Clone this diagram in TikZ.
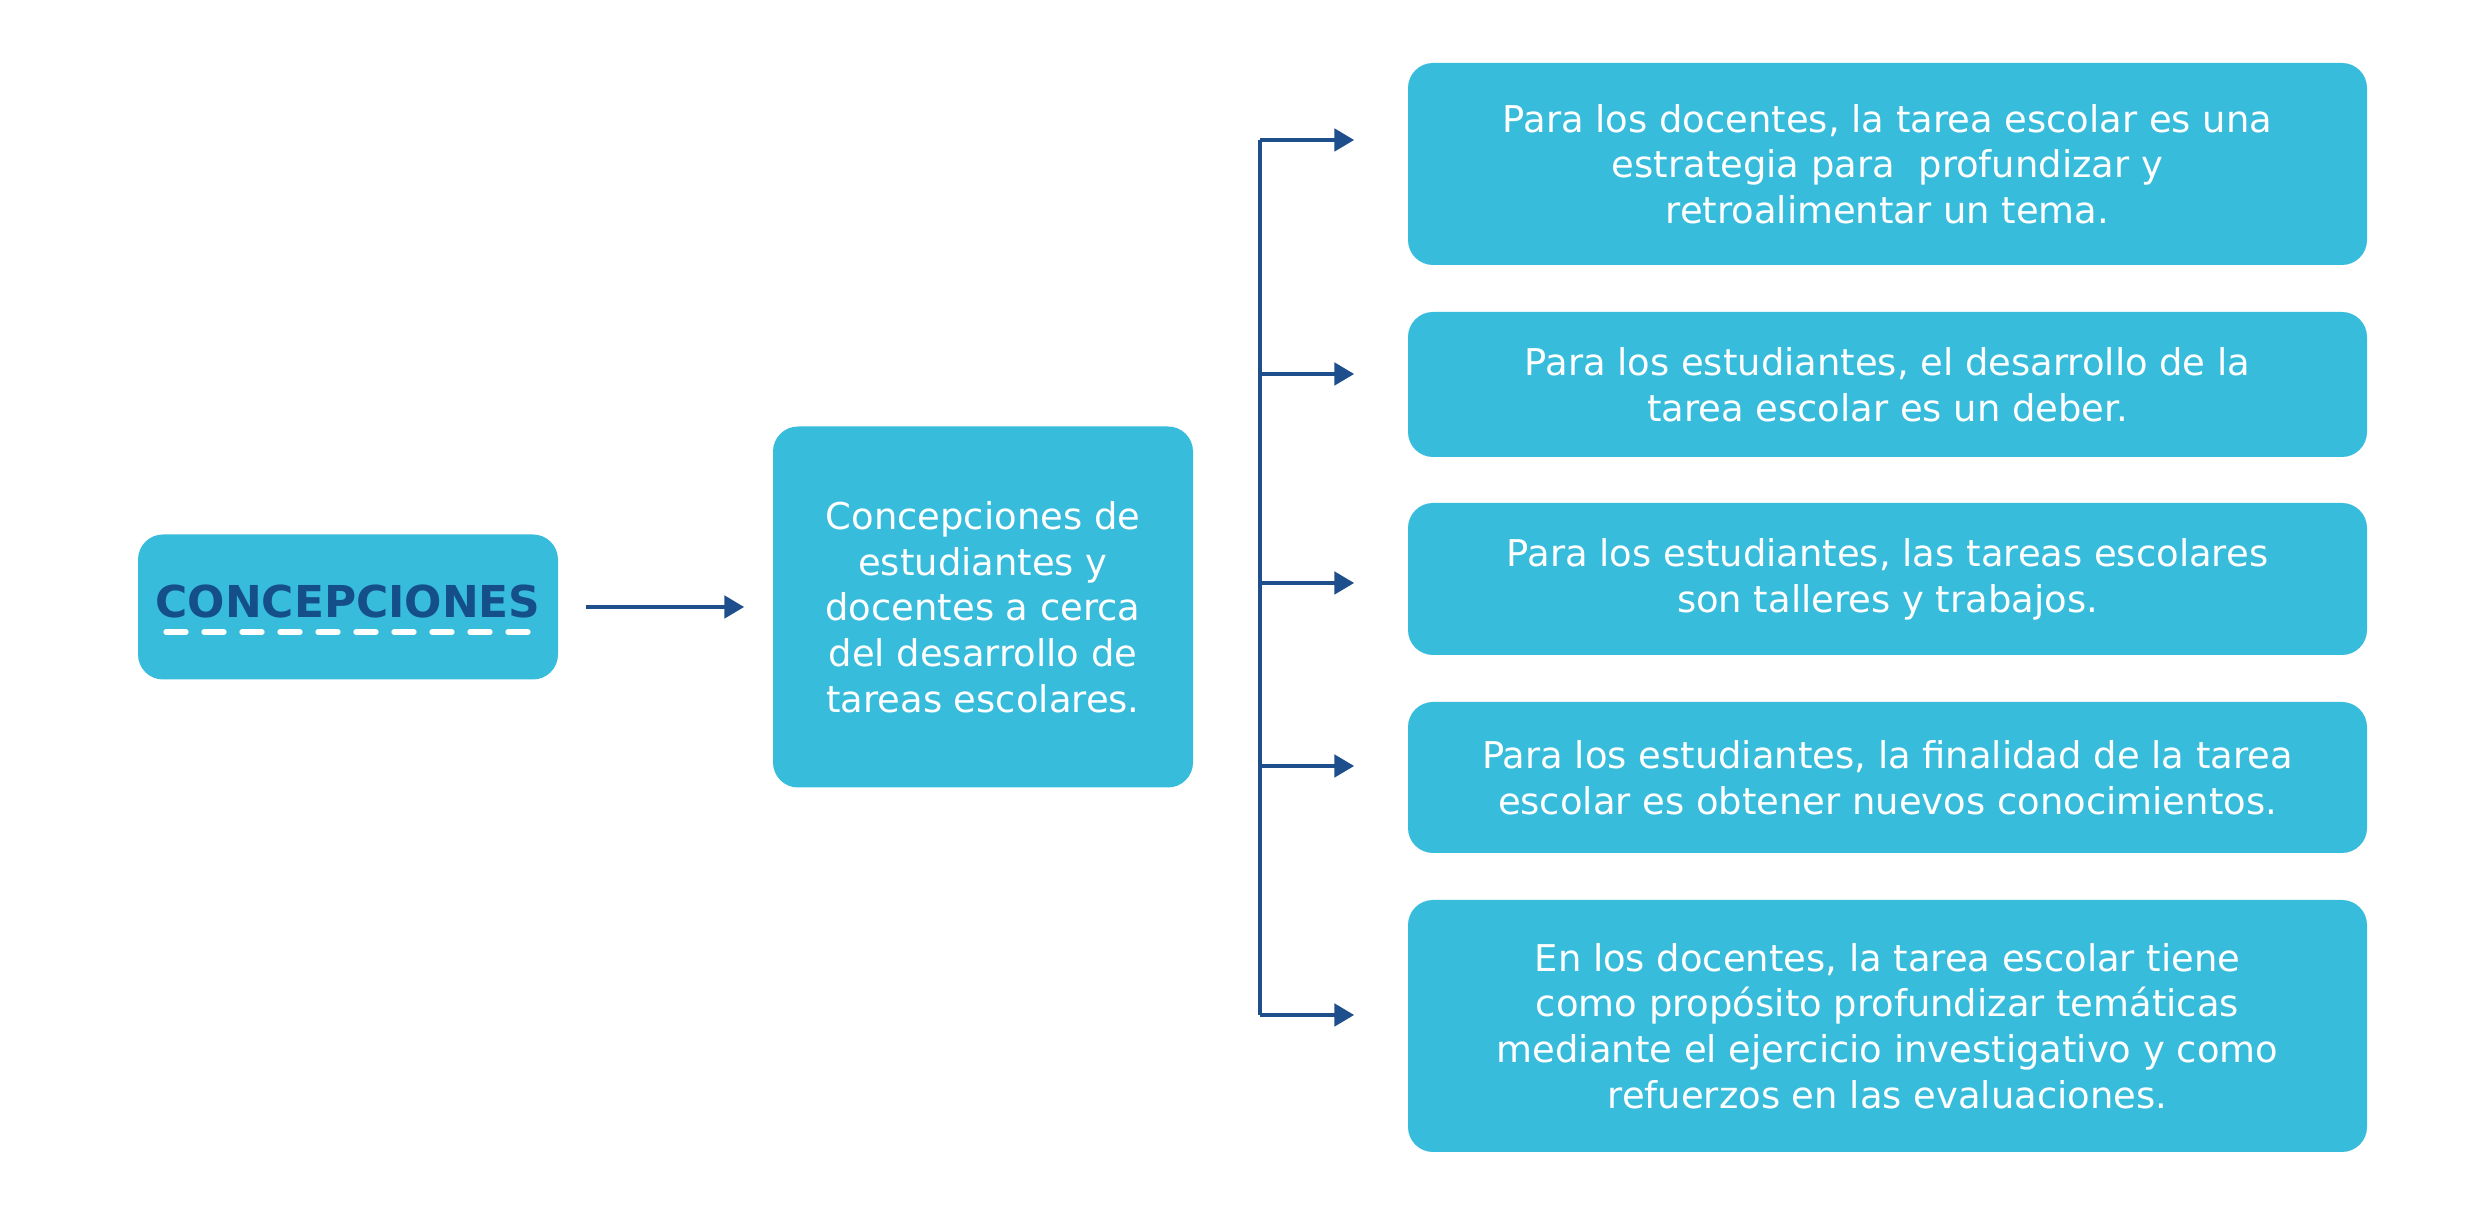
\documentclass[tikz,border=0pt]{standalone}
\usepackage{fontspec}
\setmainfont{DejaVu Sans}
\usetikzlibrary{positioning}
\usetikzlibrary{arrows.meta}
\definecolor{boxblue}{HTML}{38BCDC}
\definecolor{lineblue}{HTML}{1F4E8C}
\definecolor{titleblue}{HTML}{154F8A}

\begin{document}
\begin{tikzpicture}
            \useasboundingbox (0,0) rectangle (24.81,12.12);
            \tikzset{
                conbox/.style={rounded corners=0.25cm, fill=boxblue, text=white, align=center, inner sep=0pt, font=\fontsize{10.5}{13}\selectfont},
                conarrow/.style={draw=lineblue, line width=1.4pt, -{Triangle[length=0.2cm,width=0.22cm]}}
            }

            \begin{scope}[every node/.style={conbox}]
                \node[minimum width=4.2cm, minimum height=1.45cm] (title) at (3.48,6.05) {};
                \node[minimum width=4.2cm, minimum height=3.61cm] (mid) at (9.83,6.05) {Concepciones de\\estudiantes y\\docentes a cerca\\del desarrollo de\\tareas escolares.};
                \node[minimum width=9.59cm, minimum height=2.02cm] (r1) at (18.875,10.48) {Para los docentes, la tarea escolar es una\\estrategia para \ profundizar y\\retroalimentar un tema.};
                \node[minimum width=9.59cm, minimum height=1.45cm] (r2) at (18.875,8.275) {Para los estudiantes, el desarrollo de la\\tarea escolar es un deber.};
                \node[minimum width=9.59cm, minimum height=1.52cm] (r3) at (18.875,6.33) {Para los estudiantes, las tareas escolares\\son talleres y trabajos.};
                \node[minimum width=9.59cm, minimum height=1.51cm] (r4) at (18.875,4.345) {Para los estudiantes, la finalidad de la tarea\\escolar es obtener nuevos conocimientos.};
                \node[minimum width=9.59cm, minimum height=2.52cm] (r5) at (18.875,1.86) {En los docentes, la tarea escolar tiene\\como propósito profundizar temáticas\\mediante el ejercicio investigativo y como\\refuerzos en las evaluaciones.};
            \end{scope}

            % title with dashed underline
            \node[text=titleblue, font=\fontsize{12.5}{15}\bfseries, inner sep=0pt] (titletext) at (3.48,6.1) {CONCEPCIONES};
            \coordinate (ulstart) at (1.66,5.80);
            \coordinate (ulend) at (5.28,5.80);
            \draw[white, line width=1.5pt, line cap=round, dash pattern=on 0.2cm off 0.18cm] (ulstart) -- (ulend);

            % bracket
            \coordinate (b1) at (12.60,10.72);
            \coordinate (b2) at (12.60,8.38);
            \coordinate (b3) at (12.60,6.29);
            \coordinate (b4) at (12.60,4.46);
            \coordinate (b5) at (12.60,1.97);
            \draw[lineblue, line width=1.4pt] (b1) -- (b5);

            \draw[conarrow, shorten <=0.27cm, shorten >=0.28cm] (title.east) -- (mid.west);
            \foreach \i in {1,...,5}
                \draw[conarrow, shorten >=0.53cm] (b\i) -- (b\i -| r\i.west);
        \end{tikzpicture}
\end{document}
